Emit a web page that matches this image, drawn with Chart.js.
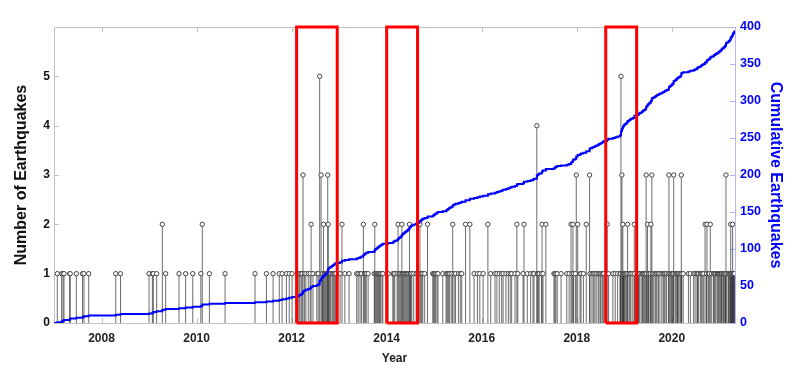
<!DOCTYPE html>
<html>
<head>
<meta charset="utf-8">
<script src="https://cdn.jsdelivr.net/npm/chart.js@4.4.1/dist/chart.umd.min.js"></script>
<style>
  html, body { margin: 0; padding: 0; background: #fff; }
  #wrap { width: 800px; height: 374px; }
</style>
</head>
<body>
<div id="wrap"><canvas id="grafico"></canvas></div>
<script>
// daily earthquake counts (decimal year, number of events that day)
const eventYears = [
  2007.07, 2007.16, 2007.19, 2007.21, 2007.33, 2007.34, 2007.47, 2007.60, 2007.63, 2007.73,
  2008.30, 2008.40,
  2009.00, 2009.07, 2009.09, 2009.16, 2009.28, 2009.35, 2009.63, 2009.77, 2009.92,
  2010.09, 2010.12, 2010.27, 2010.60,
  2011.23, 2011.47, 2011.61, 2011.74, 2011.80, 2011.89, 2011.95,
  2012.01, 2012.12, 2012.15, 2012.17, 2012.20, 2012.22, 2012.24, 2012.27, 2012.30, 2012.35,
  2012.39, 2012.41, 2012.45, 2012.53, 2012.56, 2012.59, 2012.62, 2012.64, 2012.65, 2012.67,
  2012.69, 2012.71, 2012.73, 2012.75, 2012.76, 2012.77, 2012.78, 2012.80, 2012.82, 2012.85,
  2012.87, 2012.89, 2012.91, 2012.93,
  2013.02, 2013.06, 2013.12, 2013.21, 2013.37, 2013.40, 2013.44, 2013.47, 2013.51, 2013.53,
  2013.55, 2013.57, 2013.61, 2013.74, 2013.75, 2013.77, 2013.79, 2013.81, 2013.83, 2013.85,
  2013.87, 2013.90, 2013.92,
  2014.03, 2014.13, 2014.15, 2014.17, 2014.22, 2014.24, 2014.26, 2014.28, 2014.30, 2014.32,
  2014.33, 2014.35, 2014.37, 2014.39, 2014.41, 2014.43, 2014.45, 2014.47, 2014.48, 2014.50,
  2014.51, 2014.53, 2014.57, 2014.62, 2014.64, 2014.68, 2014.70, 2014.72, 2014.74, 2014.76,
  2014.80, 2014.86, 2014.97, 2014.99,
  2015.01, 2015.03, 2015.06, 2015.08, 2015.18, 2015.25, 2015.27, 2015.29, 2015.31, 2015.33,
  2015.37, 2015.39, 2015.42, 2015.45, 2015.51, 2015.55, 2015.58, 2015.66, 2015.75, 2015.84,
  2015.91, 2015.96,
  2016.03, 2016.13, 2016.19, 2016.28, 2016.32, 2016.37, 2016.42, 2016.45, 2016.51, 2016.56,
  2016.60, 2016.63, 2016.70, 2016.74, 2016.76, 2016.87, 2016.89, 2016.96,
  2017.03, 2017.08, 2017.10, 2017.16, 2017.17, 2017.19, 2017.21, 2017.26, 2017.27, 2017.29,
  2017.35, 2017.52, 2017.54, 2017.56, 2017.59, 2017.67, 2017.79, 2017.84, 2017.88, 2017.90,
  2017.92, 2017.93, 2017.97, 2017.99,
  2018.02, 2018.07, 2018.09, 2018.14, 2018.20, 2018.27, 2018.28, 2018.32, 2018.35, 2018.38,
  2018.41, 2018.45, 2018.47, 2018.50, 2018.53, 2018.55, 2018.57, 2018.64, 2018.67, 2018.76,
  2018.81, 2018.86, 2018.91, 2018.92, 2018.93, 2018.95, 2018.96, 2018.97, 2018.98, 2018.99,
  2019.00, 2019.02, 2019.04, 2019.06, 2019.07, 2019.10, 2019.12, 2019.14, 2019.18, 2019.21,
  2019.22, 2019.27, 2019.30, 2019.31, 2019.33, 2019.37, 2019.38, 2019.40, 2019.42, 2019.44,
  2019.46, 2019.47, 2019.49, 2019.51, 2019.52, 2019.55, 2019.56, 2019.58, 2019.59, 2019.62,
  2019.65, 2019.67, 2019.69, 2019.72, 2019.75, 2019.79, 2019.82, 2019.84, 2019.86, 2019.89,
  2019.93, 2019.94, 2019.96, 2019.98,
  2020.00, 2020.01, 2020.03, 2020.04, 2020.07, 2020.09, 2020.11, 2020.12, 2020.14, 2020.17,
  2020.19, 2020.20, 2020.21, 2020.24, 2020.35, 2020.39, 2020.46, 2020.49, 2020.53, 2020.54,
  2020.56, 2020.60, 2020.62, 2020.64, 2020.67, 2020.70, 2020.73, 2020.74, 2020.77, 2020.79,
  2020.81, 2020.84, 2020.88, 2020.89, 2020.91, 2020.93, 2020.96, 2020.98,
  2021.00, 2021.02, 2021.04, 2021.05, 2021.06, 2021.09, 2021.10, 2021.12, 2021.13, 2021.14,
  2021.16, 2021.19, 2021.20, 2021.22, 2021.23, 2021.24, 2021.25, 2021.26, 2021.27, 2021.28,
  2021.29, 2021.30, 2021.31, 2021.32
];
const eventCounts = [
  1, 1, 1, 1, 1, 1, 1, 1, 1, 1,
  1, 1,
  1, 1, 1, 1, 2, 1, 1, 1, 1,
  1, 2, 1, 1,
  1, 1, 1, 1, 1, 1, 1,
  1, 1, 1, 1, 1, 1, 3, 1, 1, 1,
  1, 2, 1, 1, 1, 5, 3, 1, 1, 2,
  1, 1, 1, 1, 3, 2, 1, 1, 1, 1,
  1, 1, 1, 1,
  1, 2, 1, 1, 1, 1, 1, 1, 2, 1,
  1, 1, 1, 1, 2, 1, 1, 1, 1, 1,
  1, 1, 1,
  1, 1, 1, 1, 1, 2, 1, 1, 1, 2,
  1, 1, 1, 1, 1, 1, 1, 1, 2, 1,
  1, 1, 1, 1, 1, 1, 2, 1, 1, 1,
  1, 2, 1, 1,
  1, 1, 1, 1, 1, 1, 1, 1, 1, 1,
  1, 2, 1, 1, 1, 1, 1, 2, 2, 1,
  1, 1,
  1, 2, 1, 1, 1, 1, 1, 1, 1, 1,
  1, 1, 1, 2, 1, 1, 2, 1,
  1, 1, 1, 4, 1, 1, 1, 1, 2, 1,
  2, 1, 1, 1, 1, 1, 1, 1, 2, 1,
  2, 1, 1, 3,
  2, 1, 1, 1, 2, 3, 1, 1, 1, 1,
  1, 1, 1, 1, 1, 1, 1, 2, 1, 1,
  1, 1, 1, 1, 5, 3, 1, 2, 1, 1,
  1, 1, 1, 1, 2, 1, 1, 1, 1, 2,
  1, 1, 1, 1, 1, 1, 1, 1, 1, 1,
  3, 1, 2, 1, 1, 1, 2, 3, 1, 1,
  1, 1, 1, 1, 1, 1, 1, 1, 1, 1,
  1, 3, 1, 1,
  1, 1, 1, 3, 1, 1, 1, 1, 1, 1,
  1, 3, 1, 1, 1, 1, 1, 1, 1, 1,
  1, 1, 1, 1, 1, 2, 1, 2, 1, 1,
  2, 1, 1, 1, 1, 1, 1, 1,
  1, 1, 1, 1, 1, 1, 1, 1, 1, 3,
  1, 1, 1, 1, 1, 2, 1, 1, 1, 2,
  1, 1, 1, 1
];

const xTicks = [2008, 2010, 2012, 2014, 2016, 2018, 2020];
const yTicks = [0, 1, 2, 3, 4, 5];
const y2Ticks = [0, 50, 100, 150, 200, 250, 300, 350, 400];

// highlighted periods (red boxes)
const boxStart = [2012.105, 2014.00, 2018.61];
const boxEnd = [2012.96, 2014.65, 2019.26];

const xMin = 2007.0;
const xMax = 2021.33;
const yMax = 6;
const y2Max = 400;

// stems: vertical segments broken by null points
const stemPoints = [];
eventYears.forEach((t, i) => {
    stemPoints.push({ x: t, y: 0 }, { x: t, y: eventCounts[i] }, { x: t, y: null });
});
const headPoints = eventYears.map((t, i) => ({ x: t, y: eventCounts[i] }));

// running total for the right axis
let total = 0;
const cumPoints = [{ x: xMin, y: 0 }];
eventYears.forEach((t, i) => {
    total += eventCounts[i];
    cumPoints.push({ x: t, y: total });
});
cumPoints.push({ x: xMax, y: total });

const boxPoints = [];
boxStart.forEach((a, i) => {
    const b = boxEnd[i];
    boxPoints.push({ x: a, y: 0 }, { x: a, y: yMax }, { x: b, y: yMax }, { x: b, y: 0 }, { x: a, y: 0 }, { x: a, y: null });
});

// axes frame with inward ticks (matlab style)
const marcoEjes = {
    id: 'marcoEjes',
    beforeDatasetsDraw(chart) {
        const { ctx, chartArea: a, scales } = chart;
        const len = 5;
        ctx.save();
        ctx.lineWidth = 1;
        ctx.strokeStyle = '#c2c2c2';
        ctx.beginPath();
        ctx.moveTo(a.left + 0.5, a.top + 0.5);
        ctx.lineTo(a.left + 0.5, a.bottom + 0.5);
        ctx.lineTo(a.right, a.bottom + 0.5);
        ctx.moveTo(a.left + 0.5, a.top + 0.5);
        ctx.lineTo(a.right, a.top + 0.5);
        xTicks.forEach(v => {
            const px = Math.round(scales.x.getPixelForValue(v)) + 0.5;
            ctx.moveTo(px, a.bottom);
            ctx.lineTo(px, a.bottom - len);
            ctx.moveTo(px, a.top);
            ctx.lineTo(px, a.top + len);
        });
        yTicks.forEach(v => {
            const py = Math.round(scales.y.getPixelForValue(v)) + 0.5;
            ctx.moveTo(a.left, py);
            ctx.lineTo(a.left + len, py);
        });
        ctx.stroke();

        ctx.strokeStyle = '#b4b4ff';
        ctx.beginPath();
        ctx.moveTo(a.right + 0.5, a.top);
        ctx.lineTo(a.right + 0.5, a.bottom + 1);
        y2Ticks.forEach(v => {
            const py = Math.round(scales.y2.getPixelForValue(v)) + 0.5;
            ctx.moveTo(a.right, py);
            ctx.lineTo(a.right - len, py);
        });
        ctx.stroke();
        ctx.restore();
    }
};

const fuente = "'Liberation Sans', Arial, sans-serif";

new Chart(document.getElementById('grafico').getContext('2d'), {
    type: 'line',
    data: {
        datasets: [
            {
                label: 'periods',
                data: boxPoints,
                borderColor: '#ff0000',
                borderWidth: 3,
                pointRadius: 0,
                spanGaps: false,
                clip: false,
                yAxisID: 'y'
            },
            {
                label: 'Cumulative Earthquakes',
                data: cumPoints,
                borderColor: '#0000ff',
                borderWidth: 2,
                pointRadius: 0,
                stepped: true,
                yAxisID: 'y2'
            },
            {
                label: 'heads',
                data: headPoints,
                showLine: false,
                pointRadius: 2.2,
                pointBorderWidth: 1,
                pointBorderColor: '#444444',
                pointBackgroundColor: '#ffffff',
                yAxisID: 'y'
            },
            {
                label: 'Number of Earthquakes',
                data: stemPoints,
                borderColor: 'rgba(20,20,20,0.62)',
                borderWidth: 1,
                pointRadius: 0,
                spanGaps: false,
                yAxisID: 'y'
            }
        ]
    },
    options: {
        responsive: true,
        maintainAspectRatio: false,
        animation: false,
        events: [],
        layout: { padding: { top: 27, left: 0, right: 0, bottom: 0 } },
        plugins: { legend: { display: false }, tooltip: { enabled: false } },
        scales: {
            x: {
                type: 'linear',
                min: xMin,
                max: xMax,
                grid: { display: false, drawTicks: false },
                border: { display: false },
                afterBuildTicks: s => { s.ticks = xTicks.map(v => ({ value: v })); },
                afterFit: s => { s.height = 51; },
                ticks: {
                    padding: 8,
                    color: '#222',
                    font: { family: fuente, size: 12, weight: 'bold' },
                    callback: v => String(v)
                },
                title: {
                    display: true,
                    text: 'Year',
                    color: '#222',
                    padding: { top: 0, bottom: 8 },
                    font: { family: fuente, size: 12, weight: 'bold' }
                }
            },
            y: {
                position: 'left',
                min: 0,
                max: yMax,
                grid: { display: false, drawTicks: false },
                border: { display: false },
                afterBuildTicks: s => { s.ticks = yTicks.map(v => ({ value: v })); },
                afterFit: s => { s.width = 54; },
                ticks: {
                    padding: 4,
                    color: '#111',
                    font: { family: fuente, size: 12, weight: 'bold' }
                },
                title: {
                    display: true,
                    text: 'Number of Earthquakes',
                    color: '#111',
                    padding: { top: 12, bottom: 0 },
                    font: { family: fuente, size: 16, weight: 'bold' }
                }
            },
            y2: {
                position: 'right',
                min: 0,
                max: y2Max,
                grid: { display: false, drawTicks: false },
                border: { display: false },
                afterBuildTicks: s => { s.ticks = y2Ticks.map(v => ({ value: v })); },
                afterFit: s => { s.width = 65; },
                ticks: {
                    padding: 5,
                    color: '#0000ff',
                    font: { family: fuente, size: 12.5, weight: 'bold' }
                },
                title: {
                    display: true,
                    text: 'Cumulative Earthquakes',
                    color: '#0000ff',
                    padding: { top: 15, bottom: 0 },
                    font: { family: fuente, size: 16, weight: 'bold' }
                }
            }
        }
    },
    plugins: [marcoEjes]
});
</script>
</body>
</html>
